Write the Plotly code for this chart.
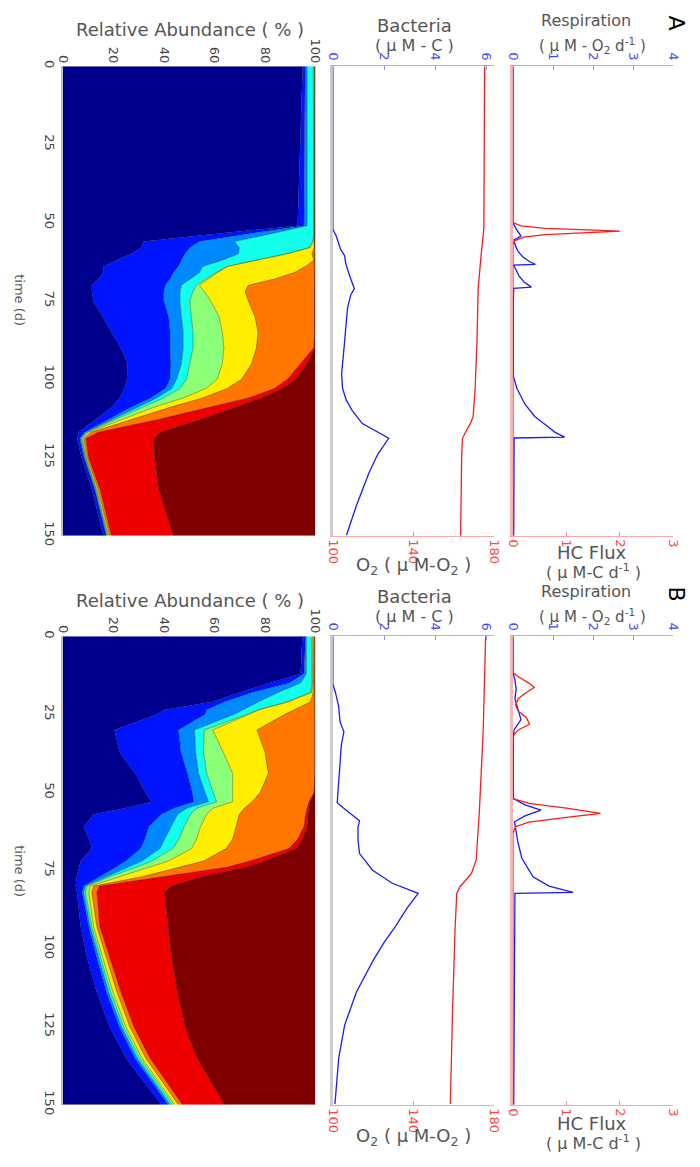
import plotly.graph_objects as go

W, H = 700, 1167

# ---------------- data ----------------
group_colors = ["#00008C", "#0014FF", "#0088FF", "#12FFEC", "#8CFF78",
                "#FFEE00", "#FF7700", "#EE0000", "#7E0000"]

pct_ticks = [0, 20, 40, 60, 80, 100]
time_ticks = [0, 25, 50, 75, 100, 125, 150]
bact_ticks = [0, 2, 4, 6]
o2_ticks = [100, 140, 180]
resp_ticks = [0, 1, 2, 3, 4]
hc_ticks = [0, 1, 2, 3]

# Panel A relative abundance (% of each group)
time_A = [0, 44, 51, 54, 56, 58, 60, 62, 64, 66, 68, 70, 72, 75, 80, 85, 90, 95,
          100, 103, 106, 109, 113, 117, 119, 125, 135, 150]
navy_A = [95, 93.5, 93, 55, 32, 31, 27, 21.2, 16, 16, 14.1, 11.5, 11.5, 12.1, 15.6, 19.3, 22.9, 25.7,
          25.4, 24.4, 22.5, 19.3, 12.8, 6.3, 5.7, 7.4, 11.5, 16]
blue_A = [1, 2, 2.5, 15, 22, 19.3, 21.3, 25.8, 29.7, 27.8, 28.4, 29.1, 28.5, 27.9, 26.3, 23.2, 19.6, 17.1,
          17.1, 16.2, 12.3, 7.7, 5.1, 2.4, 1, 1, 1.1, 1.2]
lblue_A = [0.8, 1.3, 1.3, 10, 14, 19.7, 21.2, 16.2, 9.7, 10.3, 7.8, 6.4, 6.4, 6.4, 5.1, 5.2, 5.2, 4.2,
           2.6, 2.6, 2.5, 2.6, 1.4, 0.5, 0.4, 0.3, 0.2, 0.2]
cyan_A = [2.4, 2.6, 2.6, 19.4, 31, 27.5, 18.9, 12.9, 9.7, 6.5, 6.4, 5.8, 5.2, 3.9, 3.9, 3.9, 3.9, 3.3,
          3.9, 3.2, 2.6, 1.9, 1.2, 0.5, 0.4, 0.3, 0.3, 0.3]
green_A = [0.4, 0.2, 0.2, 0.2, 0.3, 0.5, 0.3, 0.2, 0.2, 0.6, 0.7, 1.3, 4.5, 8.3, 11, 11.6, 12.2, 12.9,
           12.2, 10.3, 7.8, 4.5, 2.6, 0.5, 0.4, 0.2, 0.3, 0.3]
yellow_A = [0.2, 0.2, 0.2, 0.2, 0.3, 1.5, 10, 23.1, 30.8, 30.4, 26.4, 19.4, 16.1, 14.9, 14.2, 14.2, 12.9, 11.6,
            9.7, 8.4, 7.7, 6.5, 3.9, 1, 0.5, 0.4, 0.5, 0.5]
orange_A = [0.1, 0.1, 0.1, 0.1, 0.3, 0.4, 1.2, 0.5, 3.8, 8.3, 16.1, 26.4, 27.7, 26.4, 23.8, 22.5, 22.7, 19.4,
            18.1, 18.7, 18.1, 15.5, 10.3, 2.8, 0.8, 0.6, 0.8, 0.8]
red_A = [0.1, 0.1, 0.1, 0.1, 0.1, 0.1, 0.1, 0.1, 0.1, 0.1, 0.1, 0.1, 0.1, 0.1, 0.1, 0.1, 0.4, 2.6,
         3.2, 3.2, 5.2, 10.3, 16.8, 24.6, 26.8, 26.2, 23.3, 24.5]
dred_A = [0, 0, 0, 0, 0, 0, 0, 0, 0, 0, 0, 0, 0, 0, 0, 0, 0.2, 3.2,
          7.8, 13, 21.3, 31.7, 45.9, 61.4, 64, 63.6, 62, 56.2]

# Panel B relative abundance
time_B = [0, 12, 15, 18, 21, 23.5, 25, 30, 37, 44, 50, 53, 55, 57, 61, 65, 68, 72, 74, 77, 80, 82,
          93, 103, 114, 125, 135, 150]
navy_B = [94.9, 94.2, 81.8, 69.9, 59.4, 40.4, 37.3, 20.5, 22.4, 28.8, 32.7, 35.3, 25, 12.2, 8.3, 10.4,
          11.5, 7.1, 6.5, 5.5, 5.1, 5.6, 7.1, 9.6, 13.5, 18.6, 25, 39]
blue_B = [1.3, 1.3, 7.9, 5.1, 4.7, 16.6, 19.1, 25.3, 24.4, 20.6, 18.6, 16.6, 19.2, 26.9, 25.7, 22.1,
          19.3, 17.9, 14.5, 9.2, 3.2, 2.1, 3.2, 3.9, 3.8, 3.8, 3.5, 2.7]
lblue_B = [0.3, 1.0, 4.5, 10.3, 13.5, 14.8, 11.5, 6.4, 5.8, 4.4, 5.1, 5.8, 5.2, 6.4, 8.9, 8,
           7.7, 6.4, 5, 2.6, 0.7, 0.6, 0.6, 0.8, 0.9, 0.9, 1, 0.9]
cyan_B = [2.2, 2.2, 4.5, 13, 11.5, 5.8, 5.2, 3.8, 3.2, 3.2, 3.2, 3.2, 3.8, 5.1, 5.2, 5.5,
          5.1, 3.9, 3, 1.3, 0.6, 0.7, 0.6, 0.8, 0.8, 0.8, 0.9, 0.9]
green_B = [0.3, 0.3, 0.3, 0.3, 0.3, 0.4, 0.6, 3.4, 7.7, 10.3, 7.7, 6.4, 6.4, 6.4, 6.4, 7,
           7.4, 6.4, 5, 3.8, 1.3, 1.3, 0.7, 0.8, 0.9, 0.9, 0.9, 0.8]
yellow_B = [0.4, 0.4, 0.4, 0.6, 8.7, 13.5, 14.3, 17.5, 16.6, 14.1, 10.9, 7.7, 12.4, 12.9, 14.1, 14.3,
            13.7, 14.1, 12, 9, 1.3, 1.2, 1.3, 1.4, 1.6, 1.5, 1.5, 1.5]
orange_B = [0.4, 0.4, 0.4, 0.6, 1.7, 8.3, 11.8, 22.9, 19.7, 18.4, 21.3, 22.5, 24.8, 26.3, 26.9, 25.7,
            24.8, 18.2, 18.7, 8.6, 2.3, 2, 1.2, 1.4, 1.6, 1.7, 1.7, 1.6]
red_B = [0.2, 0.2, 0.2, 0.2, 0.2, 0.2, 0.2, 0.2, 0.2, 0.2, 0.2, 0.5, 0.6, 1, 1.3, 2,
         3, 6, 7.7, 15, 28.5, 26.9, 27, 24.5, 22.4, 20.3, 18.7, 16.7]
dred_B = [0, 0, 0, 0, 0, 0, 0, 0, 0, 0, 0.3, 2, 2.6, 2.8, 3.2, 5,
          7.5, 20, 27.6, 45, 57, 59.6, 58.3, 56.8, 54.5, 51.5, 46.8, 35.9]

# Bacteria (uM-C) and O2 (uM-O2)
bact_time_A = [0, 52.2, 54, 56.4, 58.5, 60.6, 63, 66.9, 71.1, 73, 77.4, 87.9, 98.4, 103, 106.8, 110,
               114.2, 118.9, 124, 129.9, 140.4, 149.9]
bact_A = [0, 0, 0.12, 0.2, 0.3, 0.46, 0.5, 0.65, 0.84, 0.7, 0.57, 0.46, 0.34, 0.38, 0.53, 0.75,
          1.15, 2.18, 1.75, 1.41, 0.92, 0.53]
o2_time_A = [0, 52, 60, 71, 88, 103, 112, 114.2, 116, 118.9, 125, 150]
o2_A = [175.2, 174.8, 173.5, 172, 171.4, 170.5, 169.5, 168.1, 166.5, 164.2, 163.8, 163.3]

bact_time_B = [0, 15.3, 18, 22.2, 27.4, 30.6, 34.8, 45.4, 53.3, 54.9, 59.1, 61.2, 65, 69.6, 74.9, 79.1,
               82.3, 87, 92.8, 98, 103.4, 113.9, 124.5, 135, 149.8]
bact_B = [0, 0, 0.1, 0.22, 0.28, 0.43, 0.33, 0.24, 0.17, 0.4, 1.04, 0.98, 0.98, 1.04, 1.55, 2.32,
          3.33, 2.9, 2.45, 2.0, 1.6, 0.92, 0.46, 0.23, 0.08]
o2_time_B = [0, 30, 55.9, 71.7, 76, 80.2, 82.3, 92.8, 120, 149.8]
o2_B = [175.7, 174.5, 172.6, 171, 168.6, 163, 161.4, 160.6, 159.3, 158.2]

# Respiration (uM-O2/d) and HC flux (uM-C/d)
resp_time_A = [0, 50, 52, 54.3, 55.5, 57, 59, 61, 62.5, 63.3, 63.6, 65, 67, 69, 70.6, 71, 75, 99,
               103, 108, 112, 115, 117, 118.5, 118.8, 150]
resp_A = [0, 0, 0.08, 0.2, 0.03, 0.05, 0.12, 0.25, 0.42, 0.56, 0.02, 0.08, 0.15, 0.28, 0.46, 0.02, 0.01, 0.01,
          0.1, 0.3, 0.55, 0.85, 1.05, 1.29, 0.03, 0.02]
hc_time_A = [0, 50, 51, 51.8, 52.3, 52.7, 53.2, 53.8, 54.6, 55.8, 57, 150]
hc_A = [0, 0, 0.15, 0.6, 1.4, 2.0, 1.4, 0.6, 0.2, 0.03, 0, 0]

resp_time_B = [0, 11.6, 14, 17, 20, 22.5, 26.7, 29.9, 32, 52, 54, 55.7, 57.5, 59.4, 65.7, 71, 77, 80,
               82, 82.3, 150]
resp_B = [0, 0, 0.05, 0.08, 0.05, 0.1, 0.2, 0.03, 0.01, 0.01, 0.3, 0.7, 0.3, 0.04, 0.12, 0.22, 0.5, 0.9,
          1.5, 0.05, 0.02]
hc_time_B = [0, 11.6, 13, 15, 16.4, 18, 20, 22, 24, 26, 28.2, 30, 31.5, 33, 52, 53.5, 55, 56.7, 58,
             59.5, 61, 63, 150]
hc_B = [0, 0, 0.1, 0.3, 0.4, 0.25, 0.1, 0.05, 0.1, 0.25, 0.31, 0.1, 0.02, 0, 0, 0.3, 1.0, 1.64, 1.0,
        0.3, 0.05, 0, 0]

panels = {
    "A": dict(time=time_A, groups=[navy_A, blue_A, lblue_A, cyan_A, green_A, yellow_A, orange_A, red_A, dred_A],
              bt=bact_time_A, b=bact_A, ot=o2_time_A, o=o2_A, rt=resp_time_A, r=resp_A,
              ht=hc_time_A, h=hc_A, top=61, bot=537, xo=1, yo=1),
    "B": dict(time=time_B, groups=[navy_B, blue_B, lblue_B, cyan_B, green_B, yellow_B, orange_B, red_B, dred_B],
              bt=bact_time_B, b=bact_B, ot=o2_time_B, o=o2_B, rt=resp_time_B, r=resp_B,
              ht=hc_time_B, h=hc_B, top=639, bot=1114, xo=6, yo=4),
}

# ---------------- figure ----------------
FONT = "DejaVu Sans"
fig = go.Figure()
layout = dict(width=W, height=H, margin=dict(l=0, r=0, t=0, b=0), paper_bgcolor="white",
              plot_bgcolor="rgba(0,0,0,0)", showlegend=False, font=dict(family=FONT, color="#444"))


def ax(kind, n):
    return f"{kind}axis" + ("" if n == 1 else str(n))


def ref(kind, n):
    return kind + ("" if n == 1 else str(n))


annotations = []


def text(x, y, s, size=17, angle=0, color="#555"):
    annotations.append(dict(x=x / W, y=1 - y / H, xref="paper", yref="paper", text=s, showarrow=False,
                            textangle=angle, xanchor="center", yanchor="middle",
                            font=dict(family=FONT, size=size, color=color)))


TICK = 13
for name, p in panels.items():
    xo, yo = p["xo"], p["yo"]
    ydom = [1 - p["bot"] / H, 1 - p["top"] / H]
    xa, xb, xc, xd, xe = [ref("x", xo + i) for i in range(5)]
    ya, yb, yc = [ref("y", yo + i) for i in range(3)]

    common_y = dict(domain=ydom, range=[150, 0], showgrid=False, zeroline=False)
    # abundance
    layout[ax("x", xo)] = dict(domain=[57 / W, 315 / W], range=[0, 100], side="top", anchor=ya,
                               tickvals=pct_ticks, tickangle=90, showgrid=False, zeroline=False,
                               showline=False, ticks="", tickfont=dict(size=TICK, color="#444"))
    layout[ax("y", yo)] = dict(common_y, anchor=xa, tickvals=time_ticks, tickangle=90, ticks="",
                               showline=True, linecolor="#BDBDBD", linewidth=2,
                               tickfont=dict(size=TICK, color="#444"))
    # bacteria / O2
    layout[ax("x", xo + 1)] = dict(domain=[333 / W, 498 / W], range=[0, 6.3], side="top", anchor=yb,
                                   tickvals=bact_ticks, tickangle=90, ticks="inside", ticklen=4,
                                   tickcolor="#8C8CFF", showline=True, linecolor="#A8A8FF", linewidth=1,
                                   showgrid=False, zeroline=False, tickfont=dict(size=TICK, color="#4646FF"))
    layout[ax("x", xo + 2)] = dict(overlaying=xb, range=[100, 180], side="bottom", anchor=yb,
                                   tickvals=o2_ticks, tickangle=90, ticks="inside", ticklen=4,
                                   tickcolor="#FF8C8C", showline=True, linecolor="#FFA8A8", linewidth=1,
                                   showgrid=False, zeroline=False, tickfont=dict(size=TICK, color="#FF4646"))
    layout[ax("y", yo + 1)] = dict(common_y, anchor=xb, showticklabels=False, ticks="", showline=True,
                                   linecolor="#CCCCCC", linewidth=3, layer="below traces")
    # respiration / HC flux
    layout[ax("x", xo + 3)] = dict(domain=[517 / W, 681 / W], range=[0, 4], side="top", anchor=yc,
                                   tickvals=resp_ticks, tickangle=90, ticks="inside", ticklen=4,
                                   tickcolor="#8C8CFF", showline=True, linecolor="#A8A8FF", linewidth=1,
                                   showgrid=False, zeroline=False, tickfont=dict(size=TICK, color="#4646FF"))
    layout[ax("x", xo + 4)] = dict(overlaying=xd, range=[0, 3], side="bottom", anchor=yc,
                                   tickvals=hc_ticks, tickangle=90, ticks="inside", ticklen=4,
                                   tickcolor="#FF8C8C", showline=True, linecolor="#FFA8A8", linewidth=1,
                                   showgrid=False, zeroline=False, tickfont=dict(size=TICK, color="#FF4646"))
    layout[ax("y", yo + 2)] = dict(common_y, anchor=xd, showticklabels=False, ticks="", showline=True,
                                   linecolor="#FFB4B4", linewidth=3, layer="below traces")

    # stacked abundance areas
    for vals, col in zip(p["groups"], group_colors):
        fig.add_trace(go.Scatter(x=vals, y=p["time"], xaxis=xa, yaxis=ya, stackgroup="abund" + name,
                                 orientation="h", mode="lines", fillcolor=col,
                                 line=dict(color="rgba(0,0,0,0.55)", width=0.6), hoverinfo="skip"))
    # bacteria & O2
    fig.add_trace(go.Scatter(x=p["b"], y=p["bt"], xaxis=xb, yaxis=yb, mode="lines",
                             line=dict(color="#1a1aff", width=1.3)))
    fig.add_trace(go.Scatter(x=p["o"], y=p["ot"], xaxis=xc, yaxis=yb, mode="lines",
                             line=dict(color="#ff1a1a", width=1.3)))
    # respiration & HC flux
    fig.add_trace(go.Scatter(x=p["r"], y=p["rt"], xaxis=xd, yaxis=yc, mode="lines",
                             line=dict(color="#1a1aff", width=1.3)))
    fig.add_trace(go.Scatter(x=p["h"], y=p["ht"], xaxis=xe, yaxis=yc, mode="lines",
                             line=dict(color="#ff1a1a", width=1.3)))

    off = 0 if name == "A" else 579
    text(187, 24 + off, "Relative Abundance ( % )", 18)
    text(416, 20 + off, "Bacteria", 18)
    text(416, 40 + off, "( μ M - C )", 16)
    text(592, 15 + off, "Respiration", 16)
    text(598, 40 + off, "( μ M - O<sub>2</sub> d<sup>-1</sup> )", 15)
    text(684, 17 + off, name, 22, angle=90, color="black")
    text(415, 568 + off, "O<sub>2</sub> ( μ M-O<sub>2</sub> )", 18)
    text(598, 554 + off, "HC Flux", 18)
    text(599, 573 + off, "( μ M-C d<sup>-1</sup> )", 16)
    text(12, 298 + off, "time (d)", 13, angle=90)

layout["annotations"] = annotations
fig.update_layout(**layout)
fig.write_html("out.html")
